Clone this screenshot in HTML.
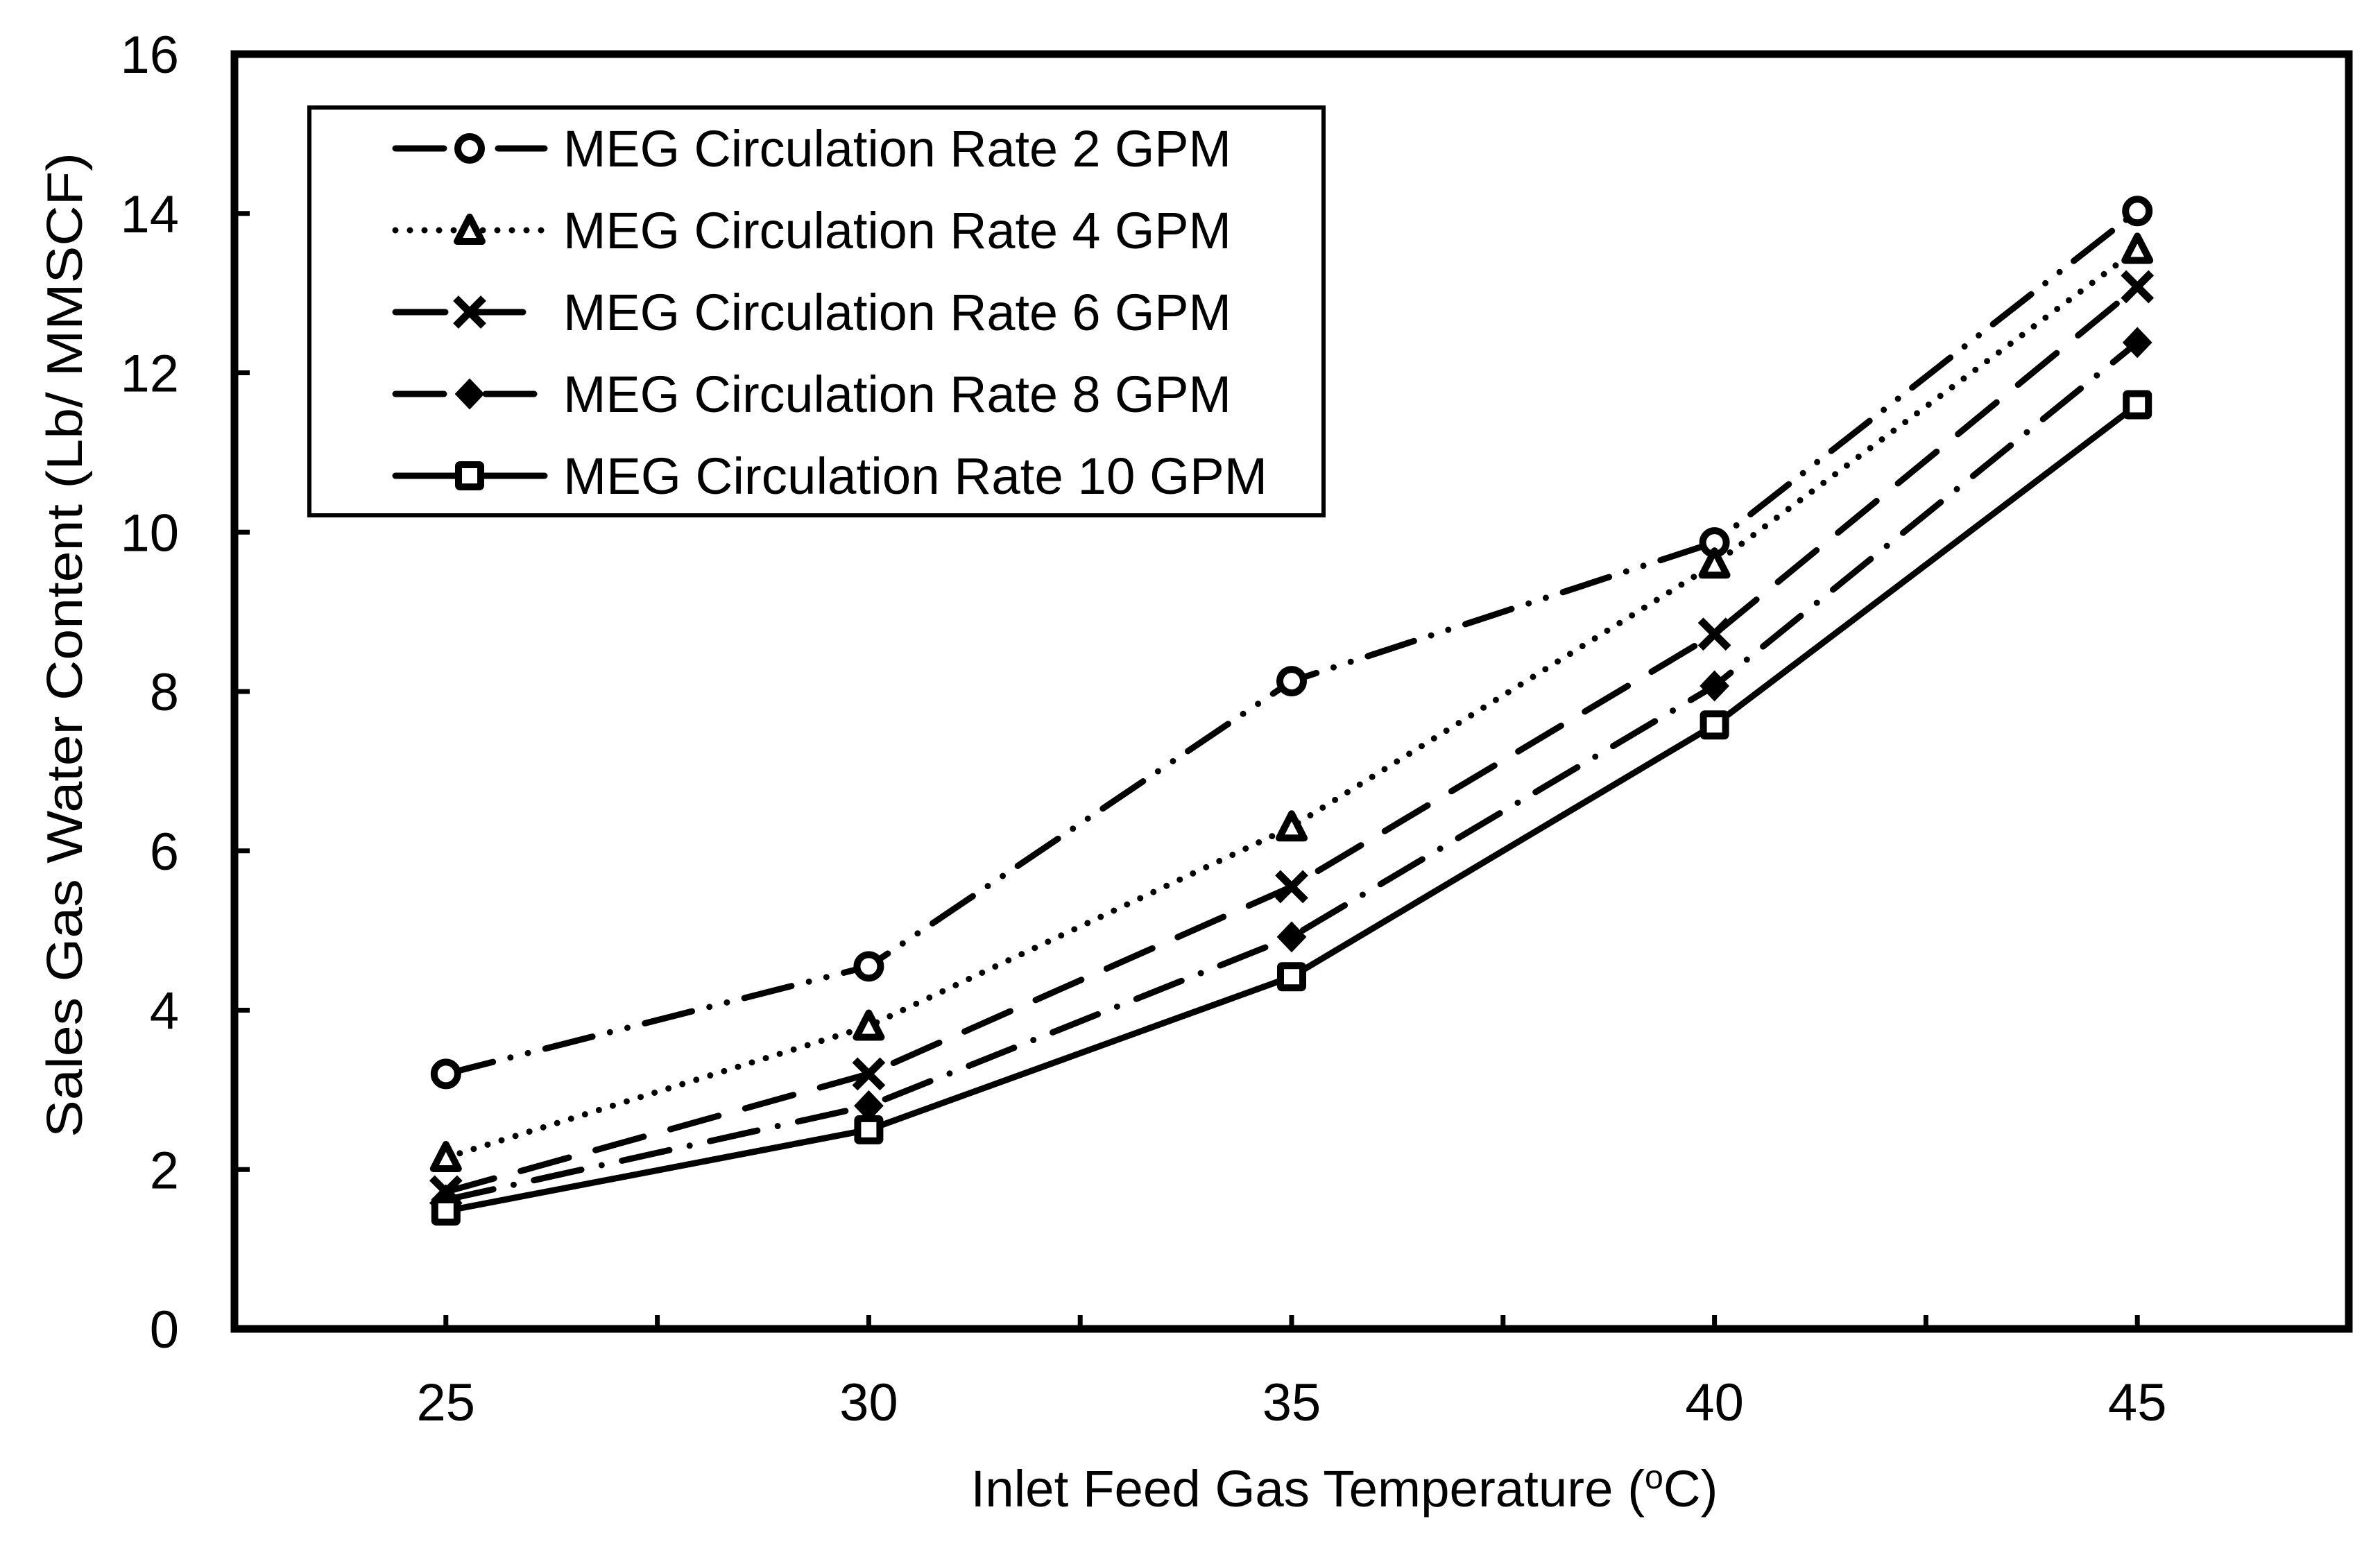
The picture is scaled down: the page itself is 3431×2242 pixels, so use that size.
<!DOCTYPE html>
<html><head><meta charset="utf-8"><style>
html,body{margin:0;padding:0;background:#fff;}
svg{display:block;font-family:"Liberation Sans",sans-serif;}
</style></head><body>
<svg id="chart" width="3431" height="2242" viewBox="0 0 3431 2242" xmlns="http://www.w3.org/2000/svg">
<rect width="3431" height="2242" fill="#fff"/>
<g id="plot"></g>
</svg>
<script>
const temps = [25, 30, 35, 40, 45];
const xTicks = [25, 30, 35, 40, 45];
const yTicks = [0, 2, 4, 6, 8, 10, 12, 14, 16];
const seriesNames = ["MEG Circulation Rate 2 GPM","MEG Circulation Rate 4 GPM","MEG Circulation Rate 6 GPM","MEG Circulation Rate 8 GPM","MEG Circulation Rate 10 GPM"];
const rate2 = [3.2, 4.55, 8.13, 9.87, 14.03];
const rate4 = [2.15, 3.8, 6.3, 9.6, 13.55];
const rate6 = [1.72, 3.2, 5.55, 8.72, 13.08];
const rate8 = [1.62, 2.8, 4.92, 8.07, 12.38];
const rate10 = [1.48, 2.5, 4.42, 7.58, 11.6];

const NS = "http://www.w3.org/2000/svg";
const L = 338, R = 3386, T = 78, B = 1916;
const X0 = 22.5, X1 = 47.5;
function xs(v){ return L + (v - X0) / (X1 - X0) * (R - L); }
function ys(v){ return B - v / 16 * (B - T); }
const g = document.getElementById('plot');
function mk(tag, attrs, parent){ const e = document.createElementNS(NS, tag); for (const k in attrs) e.setAttribute(k, attrs[k]); (parent||g).appendChild(e); return e; }

// frame
const frame = mk('rect', {x:L, y:T, width:R-L, height:B-T, fill:'none', stroke:'#000', 'stroke-width':11});



// x ticks every 2.5
for (let v = 25; v <= 47.5; v += 2.5) {
  const t = mk('line', {x1:xs(v), x2:xs(v), y1:B, y2:B-20, stroke:'#000', 'stroke-width':7});
  
  
}
xTicks.forEach(v => {
  const t = mk('text', {x:xs(v), y:2048, 'font-size':76, 'text-anchor':'middle'});
  t.textContent = v;
  
  
});
yTicks.forEach(v => {
  const tk = mk('line', {x1:L, x2:L+22, y1:ys(v), y2:ys(v), stroke:'#000', 'stroke-width':7});
  
  
  const t = mk('text', {x:258, y:ys(v)+27, 'font-size':76, 'text-anchor':'end'});
  t.textContent = v;
  
  
});

const xt = mk('text', {x:1938, y:2172, 'font-size':74, 'text-anchor':'middle', textLength:1077, lengthAdjust:'spacingAndGlyphs'});
xt.innerHTML = 'Inlet Feed Gas Temperature (<tspan font-size="48" dy="-26">o</tspan><tspan dy="26">C)</tspan>';



const yt = mk('text', {x:0, y:0, 'font-size':72, 'text-anchor':'middle', transform:'translate(118,930) rotate(-90)', textLength:1420, lengthAdjust:'spacingAndGlyphs'});
yt.textContent = 'Sales Gas Water Content (Lb/ MMSCF)';



const dashes = ["70 26 0 26 0 26", "0 21", "72 40", "70 30 0 30", "none"];
const markers = ["circle","triangle","x","diamond","square"];
const allSeries = [rate2, rate4, rate6, rate8, rate10];

function marker(type, cx, cy, parent){
  const s = 20;
  if (type === 'circle') return mk('circle', {cx, cy, r:17, fill:'#fff', stroke:'#000', 'stroke-width':10}, parent);
  if (type === 'triangle') return mk('path', {d:`M${cx} ${cy-19} L${cx+18} ${cy+16} L${cx-18} ${cy+16} Z`, fill:'#fff', stroke:'#000', 'stroke-width':10, 'stroke-linejoin':'round'}, parent);
  if (type === 'x') return mk('path', {d:`M${cx-s} ${cy-s} L${cx+s} ${cy+s} M${cx+s} ${cy-s} L${cx-s} ${cy+s}`, stroke:'#000', 'stroke-width':11}, parent);
  if (type === 'diamond') return mk('path', {d:`M${cx} ${cy-21} L${cx+20} ${cy} L${cx} ${cy+21} L${cx-20} ${cy} Z`, fill:'#000', stroke:'#000', 'stroke-width':2}, parent);
  return mk('rect', {x:cx-16, y:cy-16, width:32, height:32, fill:'#fff', stroke:'#000', 'stroke-width':10, rx:2}, parent);
}

allSeries.forEach((data, i) => {
  const sg = mk('g', {});
  
  
  const pts = data.map((v, j) => xs(temps[j]) + ',' + ys(v)).join(' ');
  const pl = mk('polyline', {points:pts, fill:'none', stroke:'#000', 'stroke-width':9, 'stroke-linecap':'round', 'stroke-linejoin':'round'}, sg);
  if (dashes[i] !== 'none') pl.setAttribute('stroke-dasharray', dashes[i]);
  
  
  data.forEach((v, j) => {
    const m = marker(markers[i], xs(temps[j]), ys(v), sg);
    
    
  });
});

// legend
const lg = mk('g', {});


const lb = mk('rect', {x:446, y:155, width:1462, height:588, fill:'#fff', stroke:'#000', 'stroke-width':6}, lg);


const rowsY = [214, 332, 450, 568, 686];
seriesNames.forEach((name, i) => {
  const eg = mk('g', {}, lg);
  
  
  const y = rowsY[i];
  const ln = mk('line', {x1:570, x2:785, y1:y, y2:y, stroke:'#000', 'stroke-width':9, 'stroke-linecap':'round'}, eg);
  if (dashes[i] !== 'none') ln.setAttribute('stroke-dasharray', i===0 ? "70 26 0 26 0 26" : dashes[i]);
  
  
  const m = marker(markers[i], 677, y, eg);
  
  
  const t = mk('text', {x:812, y:y+26, 'font-size':74, textLength:(i===4?1015:963), lengthAdjust:'spacingAndGlyphs'}, eg);
  t.textContent = name;
  
  
});
</script>
</body></html>
